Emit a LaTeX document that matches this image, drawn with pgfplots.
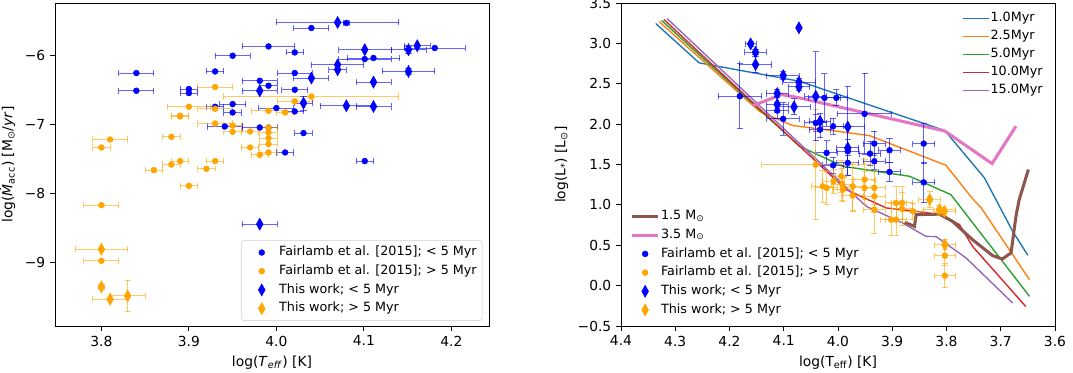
\documentclass[border=0pt]{standalone}
\usepackage{fontspec}
\setmainfont{DejaVu Sans}
\usepackage{pgfplots}
\pgfplotsset{compat=1.18}
\usepackage{pgfplotstable}
\definecolor{mblue}{RGB}{0,0,255}
\definecolor{morange}{RGB}{255,165,0}
\definecolor{tabblue}{HTML}{1F77B4}
\definecolor{taborange}{HTML}{FF7F0E}
\definecolor{tabgreen}{HTML}{2CA02C}
\definecolor{tabred}{HTML}{D62728}
\definecolor{tabpurple}{HTML}{9467BD}
\definecolor{tabbrown}{HTML}{8C564B}
\definecolor{tabpink}{HTML}{E377C2}

% ---------------- left panel data ----------------
\pgfplotstableread{
x y ex
3.840 -6.251 0.02
3.840 -6.508 0.02
3.900 -6.483 0.01
3.900 -6.541 0.01
3.930 -6.228 0.01
3.950 -6.000 0.02
3.930 -6.740 0.01
3.950 -6.701 0.015
3.950 -6.823 0.01
3.941 -7.026 0.02
3.991 -5.865 0.03
4.021 -5.952 0.01
4.040 -5.598 0.02
4.080 -5.525 0.003
4.181 -5.888 0.035
4.101 -6.048 0.03
4.111 -6.033 0.03
4.021 -6.251 0.02
3.981 -6.363 0.02
3.991 -6.435 0.01
4.021 -6.493 0.015
4.000 -6.759 0.02
4.021 -6.808 0.01
3.981 -7.041 0.02
3.991 -7.041 0.01
4.031 -7.122 0.01
4.010 -7.403 0.01
4.101 -7.528 0.01
}\LBc
\pgfplotstableread{
x y ex
3.930 -6.454 0.02
3.900 -6.740 0.025
3.930 -6.769 0.02
3.890 -6.881 0.01
3.890 -6.870 0.01
3.930 -6.983 0.02
3.950 -7.012 0.01
3.950 -7.103 0.01
3.810 -7.215 0.02
3.800 -7.331 0.01
3.880 -7.176 0.01
3.890 -7.528 0.01
3.880 -7.578 0.01
3.930 -7.528 0.01
3.860 -7.659 0.01
3.920 -7.640 0.01
3.900 -7.887 0.01
3.800 -8.167 0.02
3.800 -8.975 0.02
4.040 -6.591 0.10
4.021 -6.663 0.02
3.991 -6.798 0.02
4.010 -6.823 0.01
3.970 -7.099 0.01
3.991 -7.113 0.01
3.991 -7.194 0.01
3.991 -7.282 0.01
3.970 -7.331 0.01
3.981 -7.437 0.01
3.991 -7.403 0.01
3.991 -7.041 0.01
}\LOc
\pgfplotstableread{
x y ex ey
4.070 -5.517 0.07 0.003
4.101 -5.913 0.03 0.003
4.151 -5.913 0.02 0.05
4.161 -5.855 0.015 0.003
4.070 -6.131 0.03 0.003
4.070 -6.203 0.01 0.003
4.151 -6.228 0.03 0.05
4.040 -6.324 0.02 0.003
4.111 -6.382 0.02 0.003
3.981 -6.508 0.02 0.003
4.031 -6.687 0.01 0.10
4.080 -6.726 0.03 0.003
4.111 -6.736 0.02 0.003
3.981 -8.443 0.02 0.003
}\LBd
\pgfplotstableread{
x y ex ey
3.800 -8.806 0.03 0.003
3.800 -9.353 0.003 0.003
3.810 -9.531 0.02 0.003
3.830 -9.483 0.02 0.23
}\LOd

% ---------------- right panel data ----------------
\pgfplotstableread{
x y
4.336 3.246
4.256 2.759
4.071 2.531
3.803 1.920
3.730 1.334
3.678 0.672
3.650 0.375
}\IsoA
\pgfplotstableread{
x y
4.330 3.271
4.144 2.154
4.083 1.982
4.034 1.941
3.942 1.858
3.801 1.490
3.752 1.077
3.736 0.962
3.647 0.074
}\IsoB
\pgfplotstableread{
x y
4.325 3.283
4.071 1.726
3.991 1.478
3.868 1.354
3.792 1.127
3.761 0.858
3.647 -0.133
}\IsoC
\pgfplotstableread{
x y
4.321 3.296
3.985 1.189
3.911 0.962
3.856 0.920
3.810 0.879
3.776 0.755
3.752 0.486
3.654 -0.257
}\IsoD
\pgfplotstableread{
x y
4.315 3.308
3.948 0.982
3.881 0.776
3.838 0.610
3.819 0.607
3.764 0.343
3.678 -0.215
}\IsoE
\pgfplotstableread{
x y
3.877 0.784
3.859 0.734
3.856 0.879
3.813 0.885
3.789 0.796
3.752 0.569
3.715 0.371
3.697 0.330
3.681 0.405
3.672 0.858
3.666 1.065
3.649 1.437
}\TrkA
\pgfplotstableread{
x y
4.157 2.229
4.104 2.366
4.071 2.325
3.803 1.914
3.716 1.511
3.672 1.973
}\TrkB
\pgfplotstableread{
x y ex ey
4.181 2.345 0.04 0.40
4.101 2.065 0.03 0.20
4.025 2.325 0.03 0.30
4.003 2.325 0.02 0.10
3.951 2.127 0.05 0.50
4.009 1.973 0.02 0.10
4.033 1.932 0.02 0.10
4.021 1.644 0.02 0.15
3.982 1.664 0.02 0.30
3.982 1.520 0.02 0.15
3.933 1.759 0.02 0.15
3.941 1.635 0.02 0.15
3.933 1.540 0.02 0.10
3.905 1.676 0.02 0.15
3.905 1.408 0.02 0.12
3.842 1.759 0.02 0.25
3.842 1.279 0.02 0.25
4.009 1.490 0.02 0.10
4.041 2.015 0.02 0.10
4.112 2.168 0.02 0.10
}\RBc
\pgfplotstableread{
x y ex ey
4.041 1.498 0.10 0.68
4.028 1.230 0.02 0.20
4.008 1.292 0.02 0.15
3.994 1.354 0.01 0.20
3.992 1.251 0.02 0.20
3.991 1.189 0.02 0.15
3.973 1.230 0.02 0.30
3.973 1.115 0.02 0.20
3.951 1.313 0.02 0.25
3.951 1.210 0.02 0.20
3.933 1.210 0.02 0.20
3.933 1.106 0.02 0.20
3.933 0.941 0.02 0.30
3.893 1.024 0.02 0.20
3.882 1.024 0.02 0.20
3.882 0.950 0.02 0.20
3.893 0.817 0.02 0.20
3.902 0.817 0.02 0.20
3.862 0.920 0.02 0.10
3.803 0.371 0.02 0.12
3.803 0.123 0.02 0.15
4.021 1.210 0.02 0.20
}\ROc
\pgfplotstableread{
x y ex ey
4.161 2.994 0.01 0.03
4.152 2.890 0.02 0.03
4.152 2.738 0.03 0.10
4.072 3.193 0.003 0.003
4.101 2.601 0.03 0.05
4.072 2.519 0.03 0.05
4.072 2.462 0.02 0.05
4.112 2.379 0.02 0.05
4.112 2.242 0.02 0.10
4.081 2.214 0.03 0.10
4.041 2.345 0.02 0.55
4.033 2.035 0.02 0.10
3.982 1.966 0.03 0.50
3.982 1.706 0.02 0.10
}\RBd
\pgfplotstableread{
x y ex ey
3.831 1.065 0.02 0.10
3.813 0.941 0.03 0.05
3.804 0.920 0.02 0.05
3.803 0.507 0.02 0.06
}\ROd

\pgfplotsset{
  mpl/.style={
    scale only axis, width=4.34in, height=3.23in,
    axis line style={line width=0.6pt},
    tick align=outside, xtick pos=bottom, ytick pos=left,
    major tick length=3.5pt,
    every tick/.style={line width=0.6pt, black},
    ticklabel style={font=\fontsize{10}{12}\selectfont},
    label style={font=\fontsize{10}{12}\selectfont},
    legend cell align=left,
  },
  ebx/.style={error bars/.cd, x dir=both, x explicit,
    error bar style={#1, opacity=0.6, line width=0.7pt},
    error mark options={#1, rotate=90, mark size=2.2pt, line width=0.7pt, opacity=0.6}},
  ebxy/.style={error bars/.cd, x dir=both, x explicit, y dir=both, y explicit,
    error bar style={#1, opacity=0.6, line width=0.7pt},
    error mark options={#1, rotate=90, mark size=2.2pt, line width=0.7pt, opacity=0.6}},
  dot/.style={only marks, mark=*, color=#1, mark size=2.1pt},
  dia/.style={only marks, mark=diamond*, color=#1, mark size=4.3pt, mark options={xscale=0.75}},
  mleg/.style={legend image code/.code={\path (0cm,0cm) (#1,0cm); \draw[##1] plot coordinates {({#1/2},0cm)};}},
  lleg/.style={legend image code/.code={\draw[##1] (0cm,0cm) -- (#1,0cm);}},
  uleg/.style={legend style={nodes={text height=7pt, text depth=2.3pt, inner sep=1pt}}},
}

\begin{document}
\begin{tikzpicture}
\useasboundingbox (-0.55in,-0.46in) rectangle (10.18in,3.26in);

% ================= LEFT =================
\begin{axis}[mpl, at={(0,0)},
  xmin=3.747, xmax=4.243, ymin=-9.92, ymax=-5.235,
  xtick={3.8,3.9,4.0,4.1,4.2}, xticklabels={3.8,3.9,4.0,4.1,4.2},
  ytick={-9,-8,-7,-6}, yticklabels={−9,−8,−7,−6},
  xlabel={log(\textit{T}\textsubscript{\textit{eff}}) [K]},
  ylabel={log(\textit{Ṁ}\textsubscript{acc}) [M\textsubscript{⊙}/\textit{yr}]},
  uleg,
  legend style={at={(0.985,0.016)}, anchor=south east, draw=black!20, rounded corners=2pt,
    fill=white, font=\fontsize{9.2}{11}\selectfont, row sep=2.2pt, inner sep=3pt},
]
\addplot[dot=mblue, mleg=0.8cm, ebx=mblue] table[x=x,y=y,x error=ex] {\LBc};
\addlegendentry{Fairlamb et al. [2015];~<~5 Myr}
\addplot[dot=morange, mleg=0.8cm, ebx=morange] table[x=x,y=y,x error=ex] {\LOc};
\addlegendentry{Fairlamb et al. [2015];~>~5 Myr}
\addplot[dia=mblue, mleg=0.8cm, ebxy=mblue] table[x=x,y=y,x error=ex,y error=ey] {\LBd};
\addlegendentry{This work;~<~5 Myr}
\addplot[dia=morange, mleg=0.8cm, ebxy=morange] table[x=x,y=y,x error=ex,y error=ey] {\LOd};
\addlegendentry{This work;~>~5 Myr}
\end{axis}

% ================= RIGHT (isochrones) =================
\begin{axis}[mpl, at={(5.66in,0)},
  x dir=reverse, xmin=3.6, xmax=4.4, ymin=-0.5, ymax=3.5,
  xtick={3.6,3.7,3.8,3.9,4.0,4.1,4.2,4.3,4.4},
  xticklabels={3.6,3.7,3.8,3.9,4.0,4.1,4.2,4.3,4.4},
  ytick={-0.5,0,0.5,1,1.5,2,2.5,3,3.5},
  yticklabels={−0.5,0.0,0.5,1.0,1.5,2.0,2.5,3.0,3.5},
  xlabel={log(T\textsubscript{eff}) [K]},
  ylabel={log(L\textsubscript{*}) [L\textsubscript{⊙}]},
  uleg,
  legend style={at={(0.985,0.985)}, anchor=north east, draw=none, fill=none,
    font=\fontsize{9.2}{11}\selectfont, row sep=1.7pt},
]
\addplot[tabblue, line width=1pt, lleg=0.64cm] table[x=x,y=y] {\IsoA};
\addlegendentry{1.0Myr}
\addplot[taborange, line width=1pt, lleg=0.64cm] table[x=x,y=y] {\IsoB};
\addlegendentry{2.5Myr}
\addplot[tabgreen, line width=1pt, lleg=0.64cm] table[x=x,y=y] {\IsoC};
\addlegendentry{5.0Myr}
\addplot[tabred, line width=1pt, lleg=0.64cm] table[x=x,y=y] {\IsoD};
\addlegendentry{10.0Myr}
\addplot[tabpurple, line width=1pt, lleg=0.64cm] table[x=x,y=y] {\IsoE};
\addlegendentry{15.0Myr}
\end{axis}

% ================= RIGHT (tracks + data) =================
\begin{axis}[mpl, at={(5.66in,0)}, hide axis,
  x dir=reverse, xmin=3.6, xmax=4.4, ymin=-0.5, ymax=3.5,
  uleg,
  legend style={at={(0.012,0.016)}, anchor=south west, draw=none, fill=none,
    font=\fontsize{9.2}{11}\selectfont, row sep=2.2pt},
]
\addplot[tabbrown, line width=2.2pt, lleg=0.66cm] table[x=x,y=y] {\TrkA};
\addlegendentry{1.5 M\textsubscript{⊙}}
\addplot[tabpink, line width=2.2pt, lleg=0.66cm] table[x=x,y=y] {\TrkB};
\addlegendentry{3.5 M\textsubscript{⊙}}
\addplot[dot=mblue, mleg=0.66cm, ebxy=mblue] table[x=x,y=y,x error=ex,y error=ey] {\RBc};
\addlegendentry{Fairlamb et al. [2015];~<~5 Myr}
\addplot[dot=morange, mleg=0.66cm, ebxy=morange] table[x=x,y=y,x error=ex,y error=ey] {\ROc};
\addlegendentry{Fairlamb et al. [2015];~>~5 Myr}
\addplot[dia=mblue, mleg=0.66cm, ebxy=mblue] table[x=x,y=y,x error=ex,y error=ey] {\RBd};
\addlegendentry{This work;~<~5 Myr}
\addplot[dia=morange, mleg=0.66cm, ebxy=morange] table[x=x,y=y,x error=ex,y error=ey] {\ROd};
\addlegendentry{This work;~>~5 Myr}
\end{axis}
\end{tikzpicture}
\end{document}
